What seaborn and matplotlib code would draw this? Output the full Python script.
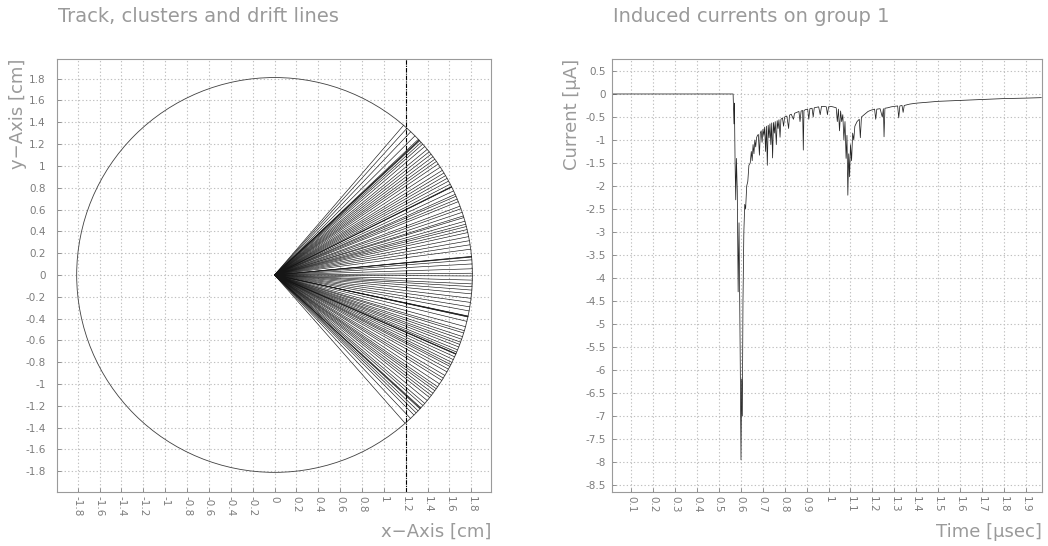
import numpy as np
import pandas as pd
import seaborn as sns
import matplotlib.pyplot as plt
from matplotlib.patches import Circle

# drift line angles (degrees) seen from the wire at the origin
drift_angles = [49.3, 48.0, 46.5, 44.8, 43.4, 43.1, 43.0, 42.8, 42.2, 41.5, 40.6, 39.5,
                38.6, 37.7, 36.8, 35.9, 35.1, 34.2, 33.1, 32.0, 31.1, 30.2, 29.3, 28.4,
                27.4, 26.6, 26.5, 26.4, 25.2, 24.1, 23.5, 22.6, 21.8, 20.4, 19.6, 18.5,
                17.4, 16.9, 15.8, 14.9, 14.2, 13.3, 12.4, 11.2, 10.0, 8.8, 7.5, 5.4,
                5.3, 5.2, 4.4, 3.2, 1.8, 0.5,
                -0.3, -1.5, -2.6, -3.4, -4.4, -5.5, -6.8, -8.0, -9.3, -10.5, -12.0, -12.1,
                -12.2, -12.3, -13.6, -15.2, -16.4, -17.1, -18.2, -19.0, -19.9, -20.6,
                -21.4, -22.3, -23.0, -23.5, -23.6, -23.7, -24.5, -25.4, -26.3, -27.0,
                -27.6, -28.5, -29.4, -30.6, -31.5, -32.3, -33.5, -34.5, -35.2, -35.9,
                -36.8, -37.6, -38.4, -39.5, -40.6, -41.4, -42.3, -42.5, -42.7, -43.5,
                -44.3, -45.2, -46.6, -48.7]
tube_radius = 1.81
track_x = 1.2

# induced current (microampere) vs time (microsecond)
time_us = [0.0, 0.565, 0.567, 0.569, 0.571, 0.574, 0.577, 0.580, 0.584, 0.588, 0.592, 0.597,
           0.601, 0.604, 0.607, 0.610, 0.614, 0.618, 0.622, 0.627, 0.632, 0.637, 0.643, 0.648,
           0.652, 0.656, 0.660, 0.664, 0.668, 0.672, 0.676, 0.680, 0.685, 0.689, 0.693, 0.697,
           0.701, 0.705, 0.709, 0.713, 0.717, 0.721, 0.725, 0.729, 0.733, 0.737, 0.741, 0.745,
           0.749, 0.753, 0.757, 0.762, 0.766, 0.770, 0.774, 0.779, 0.783, 0.790, 0.795, 0.800,
           0.810, 0.818, 0.822, 0.830, 0.840, 0.845, 0.855, 0.865, 0.870, 0.875, 0.882, 0.885,
           0.888, 0.895, 0.905, 0.910, 0.915, 0.925, 0.930, 0.935, 0.945, 0.955, 0.962, 0.968,
           0.980, 0.990, 0.995, 1.000, 1.010, 1.020, 1.035, 1.040, 1.045, 1.050, 1.055, 1.060,
           1.065, 1.070, 1.075, 1.080, 1.084, 1.088, 1.092, 1.096, 1.100, 1.105, 1.110, 1.115,
           1.120, 1.130, 1.140, 1.145, 1.150, 1.165, 1.180, 1.195, 1.210, 1.215, 1.220, 1.235,
           1.245, 1.250, 1.253, 1.257, 1.270, 1.285, 1.300, 1.315, 1.320, 1.325, 1.335, 1.340,
           1.345, 1.370, 1.400, 1.450, 1.500, 1.550, 1.600, 1.700, 1.800, 1.900, 1.970]
current_ua = [0.0, 0.0, -0.3, -0.65, -0.2, -1.5, -2.3, -1.4, -2.1, -4.3, -2.8, -5.5,
              -7.95, -6.2, -7.0, -4.5, -3.0, -2.4, -2.5, -2.0, -1.9, -1.55, -1.5, -1.25,
              -1.45, -1.1, -1.3, -1.0, -1.15, -0.95, -0.9, -0.88, -1.33, -0.85, -0.8, -1.05,
              -0.77, -0.9, -0.72, -1.25, -0.7, -1.55, -0.68, -0.95, -0.65, -1.1, -0.63, -1.39,
              -0.62, -0.85, -0.6, -1.1, -0.58, -0.75, -0.56, -0.94, -0.55, -0.52, -0.7, -0.5,
              -0.48, -0.75, -0.46, -0.44, -0.55, -0.42, -0.4, -0.38, -0.6, -0.37, -0.36, -1.22,
              -0.36, -0.34, -0.33, -0.55, -0.32, -0.31, -0.5, -0.3, -0.29, -0.28, -0.45, -0.27,
              -0.27, -0.28, -0.45, -0.28, -0.27, -0.28, -0.3, -0.6, -0.33, -0.8, -0.37, -0.6,
              -0.45, -1.0, -0.6, -1.4, -0.9, -2.2, -1.3, -1.8, -1.1, -1.45, -0.85, -1.0,
              -0.7, -0.6, -0.55, -0.95, -0.5, -0.44, -0.38, -0.35, -0.33, -0.55, -0.33, -0.32,
              -0.5, -0.32, -0.93, -0.31, -0.3, -0.28, -0.27, -0.26, -0.52, -0.26, -0.25, -0.4,
              -0.25, -0.22, -0.2, -0.18, -0.16, -0.15, -0.14, -0.12, -0.1, -0.09, -0.08]

left_ticks = [-1.8, -1.6, -1.4, -1.2, -1.0, -0.8, -0.6, -0.4, -0.2, 0.0,
              0.2, 0.4, 0.6, 0.8, 1.0, 1.2, 1.4, 1.6, 1.8]
time_ticks = [0.1, 0.2, 0.3, 0.4, 0.5, 0.6, 0.7, 0.8, 0.9, 1.0,
              1.1, 1.2, 1.3, 1.4, 1.5, 1.6, 1.7, 1.8, 1.9]
current_ticks = [0.5, 0.0, -0.5, -1.0, -1.5, -2.0, -2.5, -3.0, -3.5, -4.0, -4.5,
                 -5.0, -5.5, -6.0, -6.5, -7.0, -7.5, -8.0, -8.5]

sns.set_style("white")
plt.rcParams['font.family'] = ['DejaVu Sans']
plt.rcParams['axes.unicode_minus'] = False

TXT = '#9a9a9a'
GRID = '#c0c0c0'


def fmt(v):
    return f"{v:g}"


def style_axes(ax, xticks, yticks, ypad):
    ax.set_xticks(xticks)
    ax.set_xticklabels([fmt(v) for v in xticks], rotation=-90)
    ax.set_yticks(yticks)
    ax.set_yticklabels([fmt(v) for v in yticks])
    ax.tick_params(axis='both', direction='in', length=3, width=0.6, color='#808080',
                   labelsize=7.5, labelcolor='#7c7c7c', bottom=True, left=True)
    ax.tick_params(axis='x', pad=3)
    ax.tick_params(axis='y', pad=ypad)
    ax.grid(True, color=GRID, linestyle=(0, (1.2, 2)), linewidth=0.8)
    for s in ax.spines.values():
        s.set_color('#9a9a9a')
        s.set_linewidth(0.8)
    ax.set_xlabel('')
    ax.set_ylabel('')


fig = plt.figure(figsize=(10.48, 5.46), dpi=100)
ax1 = fig.add_axes([57 / 1048, 1 - 492 / 546, 434 / 1048, 433 / 546])
ax2 = fig.add_axes([612 / 1048, 1 - 492 / 546, 430 / 1048, 433 / 546])

# left: drift lines from the wire to the tube wall
rows = []
for i, a in enumerate(drift_angles):
    r = np.deg2rad(a)
    rows.append({'id': i, 'x': 0.0, 'y': 0.0})
    rows.append({'id': i, 'x': tube_radius * np.cos(r), 'y': tube_radius * np.sin(r)})
drift_df = pd.DataFrame(rows)
sns.lineplot(data=drift_df, x='x', y='y', units='id', estimator=None, sort=False,
             color='#151515', linewidth=0.45, ax=ax1)
ax1.add_patch(Circle((0, 0), tube_radius, fill=False, edgecolor='#404040', linewidth=0.6))
ax1.axvline(track_x, color='black', linewidth=0.8, linestyle=(0, (4, 1, 1, 1)))
ax1.set_xlim(-1.99, 1.98)
ax1.set_ylim(-1.99, 1.98)
style_axes(ax1, left_ticks, left_ticks, 8)

# right: induced current signal
cur_df = pd.DataFrame({'t': time_us, 'i': current_ua})
sns.lineplot(data=cur_df, x='t', y='i', sort=False, estimator=None,
             color='#252525', linewidth=0.55, ax=ax2)
ax2.set_xlim(0.013, 1.973)
ax2.set_ylim(-8.65, 0.76)
style_axes(ax2, time_ticks, current_ticks, 4.5)

fig.text(58 / 1048, 1 - 16 / 546, 'Track, clusters and drift lines', color=TXT,
         fontsize=14, ha='left', va='center')
fig.text(613 / 1048, 1 - 16 / 546, 'Induced currents on group 1', color=TXT,
         fontsize=14, ha='left', va='center')
fs = 13
fig.text(491 / 1048, 1 - 532 / 546, 'x\u2212Axis [cm]', color=TXT, fontsize=fs,
         ha='right', va='center')
fig.text(1042 / 1048, 1 - 532 / 546, 'Time [\u03bcsec]', color=TXT, fontsize=fs,
         ha='right', va='center')
fig.text(18 / 1048, 1 - 59 / 546, 'y\u2212Axis [cm]', color=TXT, fontsize=fs,
         rotation=90, ha='center', va='top')
fig.text(572 / 1048, 1 - 59 / 546, 'Current [\u03bcA]', color=TXT, fontsize=fs,
         rotation=90, ha='center', va='top')

fig.savefig('out.png', dpi=100, facecolor='white')
